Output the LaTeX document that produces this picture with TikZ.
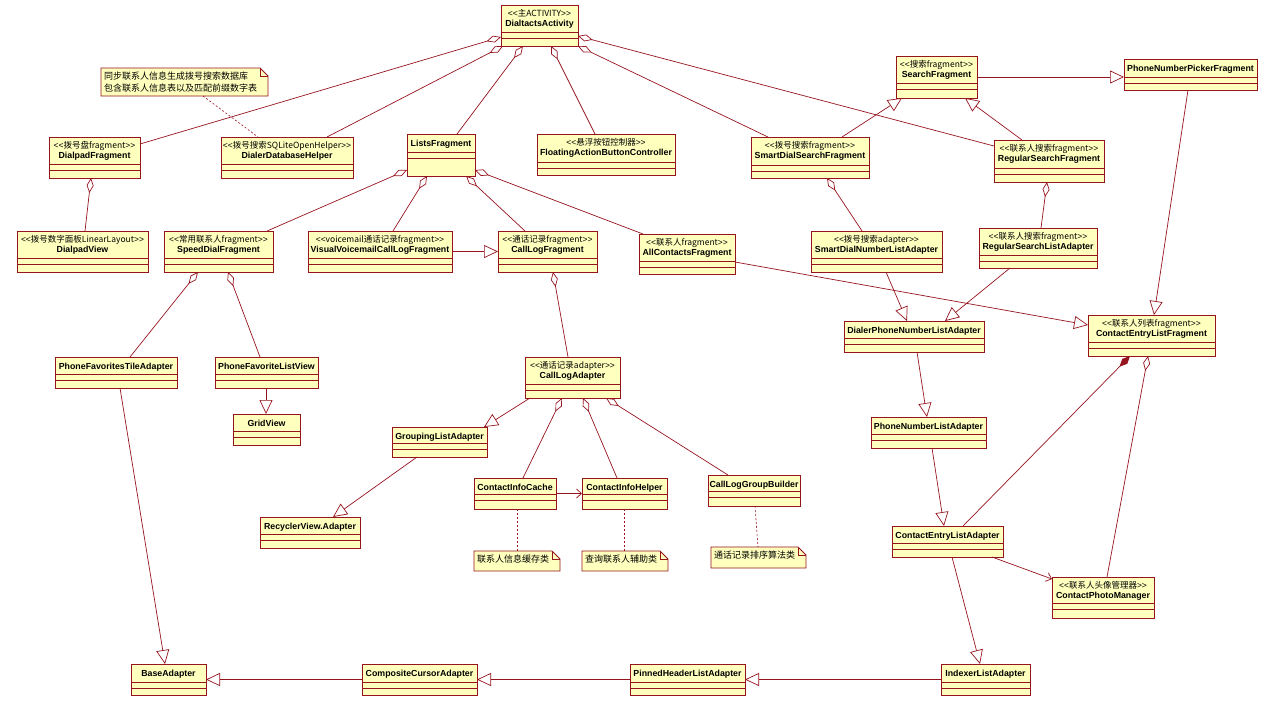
\documentclass[tikz,border=0pt]{standalone}
\usepackage{fontspec}
\setmainfont{Liberation Sans}
\newfontfamily\cjk[Ligatures=TeXOff]{Noto Sans CJK SC}
\newfontfamily\lat[Ligatures=TeXOff]{Liberation Sans}
\usetikzlibrary{arrows.meta,calc}
\definecolor{lc}{RGB}{150,20,30}
\definecolor{bf}{RGB}{255,255,190}
\tikzset{
  clsbox/.style={draw=lc, fill=bf, line width=0.8pt, inner sep=0pt, outer sep=0pt},
  sepline/.style={draw=lc, line width=0.8pt},
  nm/.style={font=\fontsize{8.8pt}{10pt}\selectfont\bfseries, inner sep=0pt, text=black},
  st/.style={font=\cjk\fontsize{8.5pt}{10pt}\selectfont, inner sep=0pt, text=black},
  notetext/.style={font=\cjk\fontsize{9pt}{12pt}\selectfont, inner sep=0pt, text=black},
  lk/.style={draw=lc, line width=0.7pt},
  agg/.style={lk, {Diamond[open,length=15pt,width=7pt]}-},
  comp/.style={lk, {Diamond[length=15pt,width=7pt]}-},
  gen/.style={lk, -{Triangle[open,length=14pt,width=13pt]}},
  assoc/.style={lk, -{Straight Barb[length=5pt,width=9pt]}},
  dsh/.style={lk, line width=0.6pt, dash pattern=on 2pt off 2pt},
}
% single-line class: name, x1, y1, x2, y2, first separator, text
\newcommand\clsS[7]{%
  \node[clsbox, minimum width={(#4-#2)*1pt}, minimum height={(#5-#3)*1pt}] (#1) at ({(#2+#4)/2},{(#3+#5)/2}) {};
  \draw[sepline] (#2,#6) -- (#4,#6) (#2,{#6+6}) -- (#4,{#6+6});
  \node[nm, anchor=base] at ({(#2+#4)/2},{#3+12.5}) {#7};}
% two-line class: name, x1, y1, x2, y2, first separator, stereotype, text
\newcommand\clsT[8]{%
  \node[clsbox, minimum width={(#4-#2)*1pt}, minimum height={(#5-#3)*1pt}] (#1) at ({(#2+#4)/2},{(#3+#5)/2}) {};
  \draw[sepline] (#2,#6) -- (#4,#6) (#2,{#6+6}) -- (#4,{#6+6});
  \node[st, anchor=base] at ({(#2+#4)/2},{#3+11}) {{\lat<<}#7{\lat>>}};
  \node[nm, anchor=base] at ({(#2+#4)/2},{#3+21}) {#8};}
% note: name, x1, y1, x2, y2, text
\newcommand\notebox[6]{%
  \node[inner sep=0pt, outer sep=0pt, minimum width={(#4-#2)*1pt}, minimum height={(#5-#3)*1pt}] (#1) at ({(#2+#4)/2},{(#3+#5)/2}) {};
  \filldraw[draw=lc, fill=bf, line width=0.8pt] (#1.north west) -- ([xshift=-8pt]#1.north east) -- ([yshift=-8pt]#1.north east) -- (#1.south east) -- (#1.south west) -- cycle;
  \draw[lc, line width=0.6pt] ([xshift=-8pt]#1.north east) -- ([xshift=-8pt,yshift=-8pt]#1.north east) -- ([yshift=-8pt]#1.north east);
  \node[notetext, anchor=base west] at ({#2+3},{#3+11.5}) {#6};}
\begin{document}
\begin{tikzpicture}[x=1pt,y=-1pt]
\useasboundingbox (0,0) rectangle (1267,716);
\fill[white] (0,0) rectangle (1267,716);

% ---------- notes ----------
\notebox{N1}{101}{68}{268}{96}{同步联系人信息生成拨号搜索数据库}
\node[notetext, anchor=base west] (N1b) at (104,91.5) {包含联系人信息表以及匹配前缀数字表};
\notebox{N2}{474}{551}{560}{571}{联系人信息缓存类}
\notebox{N3}{582}{551}{668}{571}{查询联系人辅助类}
\notebox{N4}{711}{547}{806}{568}{通话记录排序算法类}

% ---------- classes ----------
\clsT{DA}{501}{5}{578}{46}{32}{主ACTIVITY}{DialtactsActivity}
\clsT{DF}{49}{137}{140}{178}{164}{拨号盘fragment}{DialpadFragment}
\clsT{DDH}{221}{137}{353}{178}{164}{拨号搜索SQLiteOpenHelper}{DialerDatabaseHelper}
\clsS{LF}{407}{134}{475}{176}{152}{ListsFragment}
\clsT{FAB}{537}{134}{675}{175}{162}{悬浮按钮控制器}{FloatingActionButtonController}
\clsT{SDSF}{751}{137}{869}{178}{165}{拨号搜索fragment}{SmartDialSearchFragment}
\clsT{DV}{17}{231}{148}{272}{258}{拨号数字面板LinearLayout}{DialpadView}
\clsT{SDF}{164}{231}{273}{272}{258}{常用联系人fragment}{SpeedDialFragment}
\clsT{VVF}{308}{231}{452}{272}{258}{voicemail通话记录fragment}{VisualVoicemailCallLogFragment}
\clsT{CLF}{498}{231}{597}{272}{258}{通话记录fragment}{CallLogFragment}
\clsT{ACF}{639}{234}{735}{274}{261}{联系人fragment}{AllContactsFragment}
\clsT{SDNLA}{811}{231}{942}{272}{258}{拨号搜索adapter}{SmartDialNumberListAdapter}
\clsT{SF}{896}{56}{977}{98}{83}{搜索fragment}{SearchFragment}
\clsS{PNPF}{1124}{59}{1257}{90}{77}{PhoneNumberPickerFragment}
\clsT{RSF}{994}{140}{1104}{182}{168}{联系人搜索fragment}{RegularSearchFragment}
\clsT{RSLA}{979}{228}{1097}{268}{255}{联系人搜索fragment}{RegularSearchListAdapter}
\clsS{PFTA}{55}{357}{177}{388}{374}{PhoneFavoritesTileAdapter}
\clsS{PFLV}{215}{357}{318}{388}{374}{PhoneFavoriteListView}
\clsS{GV}{233}{414}{300}{445}{431}{GridView}
\clsS{GLA}{392}{427}{487}{457}{443}{GroupingListAdapter}
\clsS{RVA}{260}{517}{360}{548}{534}{RecyclerView.Adapter}
\clsT{CLA}{525}{357}{620}{398}{384}{通话记录adapter}{CallLogAdapter}
\clsS{CIC}{474}{478}{556}{509}{494}{ContactInfoCache}
\clsS{CIH}{582}{478}{667}{509}{494}{ContactInfoHelper}
\clsS{CLGB}{708}{475}{800}{506}{491}{CallLogGroupBuilder}
\clsS{DPNLA}{844}{321}{984}{352}{338}{DialerPhoneNumberListAdapter}
\clsT{CELF}{1088}{315}{1215}{356}{342}{联系人列表fragment}{ContactEntryListFragment}
\clsS{PNLA}{871}{417}{986}{448}{434}{PhoneNumberListAdapter}
\clsS{CELA}{892}{526}{1003}{557}{543}{ContactEntryListAdapter}
\clsT{CPM}{1052}{577}{1154}{618}{603}{联系人头像管理器}{ContactPhotoManager}
\clsS{BA}{131}{664}{206}{695}{682}{BaseAdapter}
\clsS{CCA}{362}{664}{477}{695}{682}{CompositeCursorAdapter}
\clsS{PHLA}{630}{664}{745}{695}{682}{PinnedHeaderListAdapter}
\clsS{ILA}{941}{664}{1030}{695}{682}{IndexerListAdapter}

% ---------- aggregations / composition ----------
\draw[agg] ($(DA.north west)+(0,32)$) -- ($(DF.north east)+(0,7)$);
\draw[agg] ($(DA.south west)+(2,0)$) -- ($(DDH.north west)+(106,0)$);
\draw[agg] ($(DA.south west)+(22,0)$) -- ($(LF.north west)+(50,0)$);
\draw[agg] ($(DA.south west)+(50,0)$) -- ($(FAB.north west)+(58,0)$);
\draw[agg] (DA.south east) -- ($(SDSF.north west)+(17,0)$);
\draw[agg] ($(DA.north east)+(0,31)$) -- ($(RSF.north west)+(0,6)$);
\draw[agg] ($(LF.north west)+(0,36)$) -- ($(SDF.north west)+(103,0)$);
\draw[agg] ($(LF.south west)+(20,0)$) -- ($(VVF.north west)+(85,0)$);
\draw[agg] ($(LF.south west)+(59,0)$) -- ($(CLF.north west)+(27,0)$);
\draw[agg] ($(LF.north east)+(0,36)$) -- ($(ACF.north west)+(4,0)$);
\draw[agg] ($(DF.south west)+(42,0)$) -- ($(DV.north west)+(68,0)$);
\draw[agg] ($(SDF.south west)+(34,0)$) -- ($(PFTA.north west)+(75,0)$);
\draw[agg] ($(SDF.south west)+(64,0)$) -- ($(PFLV.north west)+(45,0)$);
\draw[agg] ($(CLF.south west)+(55,0)$) -- ($(CLA.north west)+(43,0)$);
\draw[agg] ($(CLA.south west)+(37,0)$) -- ($(CIC.north west)+(49,0)$);
\draw[agg] ($(CLA.south west)+(58,0)$) -- ($(CIH.north west)+(35,0)$);
\draw[agg] ($(CLA.south west)+(81,0)$) -- ($(CLGB.north west)+(20,0)$);
\draw[agg] ($(SDSF.south west)+(76,0)$) -- ($(SDNLA.north west)+(51,0)$);
\draw[agg] ($(RSF.south west)+(53,0)$) -- ($(RSLA.north west)+(62,0)$);
\draw[agg] ($(CELF.south west)+(60,0)$) -- ($(CPM.north west)+(55,0)$);
\draw[comp] ($(CELF.south west)+(42,0)$) -- ($(CELA.north west)+(71,0)$);

% ---------- generalizations ----------
\draw[gen] (VVF.east) -- (CLF.west);
\draw[gen] ($(PFLV.south west)+(51,0)$) -- ($(GV.north west)+(33,0)$);
\draw[gen] ($(PFTA.south west)+(65,0)$) -- ($(BA.north west)+(34,0)$);
\draw[gen] ($(CLA.south west)+(5,0)$) -- ($(GLA.north west)+(92,0)$);
\draw[gen] ($(GLA.south west)+(25,0)$) -- ($(RVA.north west)+(73,0)$);
\draw[gen] ($(SF.north west)+(81,21)$) -- ($(PNPF.north west)+(0,18)$);
\draw[gen] ($(SDSF.north west)+(91,0)$) -- ($(SF.south west)+(6,0)$);
\draw[gen] ($(RSF.north west)+(28,0)$) -- ($(SF.south west)+(69,0)$);
\draw[gen] ($(PNPF.south west)+(64,0)$) -- ($(CELF.north west)+(66,0)$);
\draw[gen] ($(SDNLA.south west)+(75,0)$) -- ($(DPNLA.north west)+(63,0)$);
\draw[gen] ($(RSLA.south west)+(31,0)$) -- ($(DPNLA.north west)+(101,0)$);
\draw[gen] ($(ACF.north west)+(96,28)$) -- ($(CELF.north west)+(0,10)$);
\draw[gen] ($(DPNLA.south west)+(73,0)$) -- ($(PNLA.north west)+(56,0)$);
\draw[gen] ($(PNLA.south west)+(61,0)$) -- ($(CELA.north west)+(52,0)$);
\draw[gen] ($(CELA.south west)+(60,0)$) -- ($(ILA.north west)+(39,0)$);
\draw[gen] (ILA.west) -- (PHLA.east);
\draw[gen] (PHLA.west) -- (CCA.east);
\draw[gen] (CCA.west) -- (BA.east);

% ---------- associations ----------
\draw[assoc] (CIC.east) -- (CIH.west);
\draw[assoc] ($(CELA.south west)+(100,0)$) -- ($(CPM.north west)+(0,2)$);

% ---------- note links ----------
\draw[dsh] ($(N1.south west)+(102,0)$) -- ($(DDH.north west)+(37,0)$);
\draw[dsh] ($(CIC.south west)+(43,0)$) -- ($(N2.north west)+(43,0)$);
\draw[dsh] ($(CIH.south west)+(42,0)$) -- ($(N3.north west)+(42,0)$);
\draw[dsh] ($(CLGB.south west)+(47,0)$) -- ($(N4.north west)+(47,0)$);
\end{tikzpicture}
\end{document}
